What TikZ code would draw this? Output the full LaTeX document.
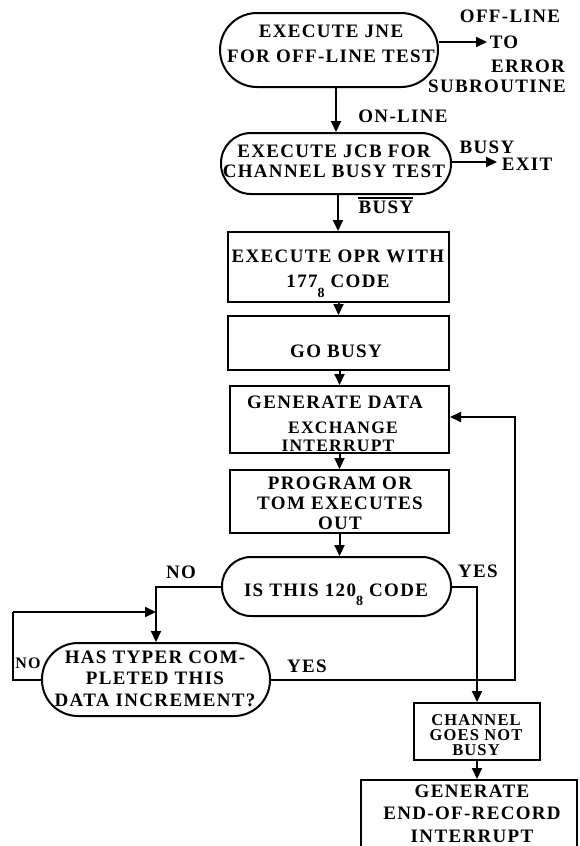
\documentclass[tikz,border=0pt]{standalone}
\usepackage{fontspec}
\setmainfont{Liberation Serif}[LetterSpace=7]
\usetikzlibrary{arrows.meta}
\tikzset{
  box/.style={draw, line width=2pt, inner sep=0pt},
  pill/.style={box, rounded corners=#1},
  txt/.style={inner sep=0pt, align=center, font=\bfseries\fontsize{19}{20}\selectfont},
  flow/.style={line width=2pt, -{Triangle[length=11pt,width=10pt]}},
  wire/.style={line width=2pt},
}
\newcommand{\subeight}[1]{\raisebox{#1}[0pt][0pt]{\fontsize{14}{14}\selectfont 8}}
\begin{document}
\begin{tikzpicture}[x=1pt,y=-1pt]
\useasboundingbox (0,0) rectangle (580,846);
\clip (0,0) rectangle (580,846);

% --- shapes ---
\node[pill=37pt, minimum width=218pt, minimum height=74pt] (jne) at (329,50) {};
\node[pill=30pt, minimum width=230pt, minimum height=61pt] (jcb) at (336,163.5) {};
\node[box, minimum width=221pt, minimum height=70pt] (opr) at (338,267) {};
\node[box, minimum width=221pt, minimum height=54pt] (go) at (338.5,343) {};
\node[box, minimum width=219pt, minimum height=67pt] (gen) at (339.5,419.5) {};
\node[box, minimum width=219pt, minimum height=63pt] (prog) at (339.5,501.5) {};
\node[pill=29pt, minimum width=229pt, minimum height=59pt] (is) at (336.5,586.5) {};
\node[pill=36pt, minimum width=228pt, minimum height=73pt] (has) at (156,679.5) {};
\node[box, minimum width=126pt, minimum height=57pt] (ch) at (477,731.5) {};
\node[box, minimum width=216pt, minimum height=100pt] (eor) at (469,830) {};

% --- texts inside the shapes ---
\node[txt, font=\bfseries\fontsize{19}{25}\selectfont] (jnet) at (331,43.5) {EXECUTE JNE\\FOR OFF-LINE TEST};
\node[txt] (jcbt) at (334,161) {EXECUTE JCB FOR\\CHANNEL BUSY TEST};
\node[txt, font=\bfseries\fontsize{19}{25}\selectfont] (oprt) at (338,268.5) {EXECUTE OPR WITH\\177\subeight{-10pt} CODE};
\node[txt] (got) at (336,351.5) {GO BUSY};
\node[txt] (gent1) at (335,402.5) {GENERATE DATA};
\node[txt, font=\bfseries\fontsize{17.5}{18}\selectfont] (gent2) at (343,427.5) {EXCHANGE};
\node[txt, font=\bfseries\fontsize{17.5}{18}\selectfont] (gent3) at (338,445.5) {INTERRUPT};
\node[txt] (progt) at (340,503) {PROGRAM OR\\TOM EXECUTES\\OUT};
\node[txt] (ist) at (336,590) {IS THIS 120\subeight{-9pt} CODE};
\node[txt, font=\bfseries\fontsize{19}{21.5}\selectfont] (hast) at (155,678.5) {HAS TYPER COM-\\PLETED THIS\\DATA INCREMENT?};
\node[txt, font=\bfseries\fontsize{16.5}{15}\selectfont] (cht) at (476,735) {CHANNEL\\GOES NOT\\BUSY};
\node[txt, font=\bfseries\fontsize{19}{22.5}\selectfont] (eort) at (472,813.5) {GENERATE\\END-OF-RECORD\\INTERRUPT};

% --- side exits ---
\coordinate (offend) at (487,42);
\draw[flow] (jne.east |- offend) -- (offend);
\node[txt] (offl) at (510,16) {OFF-LINE};
\node[txt] (tol) at (504,42.5) {TO};
\node[txt] (errl) at (528,66) {ERROR};
\node[txt] (subl) at (497,86) {SUBROUTINE};

\coordinate (busyend) at (497,162);
\draw[flow] (jcb.east |- busyend) -- (busyend);
\node[txt] (busyl) at (487,147.5) {BUSY};
\node[txt] (exitl) at (527,164) {EXIT};

% --- main column ---
\draw[flow] (jcb.north |- jne.south) -- (jcb.north);
\node[txt] (onl) at (403,116) {ON-LINE};
\draw[flow] (opr.north |- jcb.south) -- (opr.north);
\node[txt] (nbusyl) at (386,207.5) {BUSY};
\draw[line width=1.3pt] ([yshift=3pt]nbusyl.north west) -- ([yshift=3pt,xshift=-1pt]nbusyl.north east);
\draw[flow] (go.north |- opr.south) -- (go.north);
\draw[flow] (gen.north |- go.south) -- (gen.north);
\draw[flow] (gen.south) -- (prog.north);
\draw[flow] (prog.south) -- (prog.south |- is.north);

% --- decision branches ---
\draw[flow] (is.west) -| (has.north);
\node[txt] (nol) at (181,572) {NO};
\draw[flow] (is.east) -| (ch.north);
\node[txt] (yesl) at (478,571) {YES};

\coordinate (lx) at (13,612);
\draw[wire] (has.west) -| (lx);
\draw[flow] (lx) -- (has.north |- lx);
\node[txt, font=\bfseries\fontsize{16}{16}\selectfont] (nol2) at (28,663) {NO};

\coordinate (rx) at (515,417);
\draw[flow] (has.east) -| (rx) -- (gen.east |- rx);
\node[txt] (yesl2) at (307,666.5) {YES};

\draw[flow] (ch.south) -- (ch.south |- eor.north);
\end{tikzpicture}
\end{document}
